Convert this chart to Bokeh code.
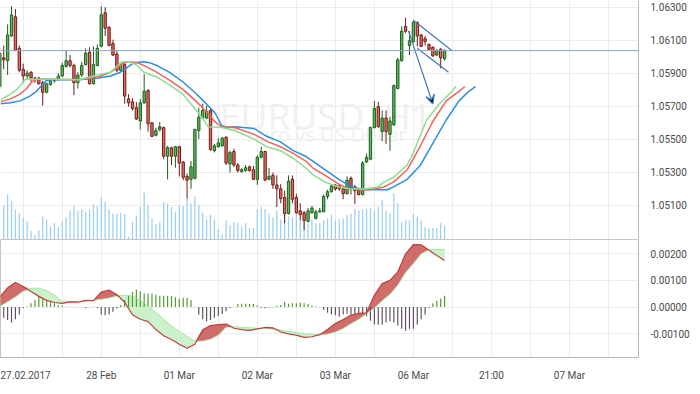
import numpy as np
from bokeh.plotting import figure
from bokeh.layouts import column
from bokeh.models import Range1d, FixedTicker, PrintfTickFormatter, Span, Label, Arrow, VeeHead
from bokeh.core.properties import value
from bokeh.embed import file_html
from bokeh.resources import INLINE

# ---------------- data (EURUSD H1, bar index 0..114) ----------------
opens = [1.05819, 1.05993, 1.05976, 1.06126, 1.06242, 1.06051, 1.05923, 1.05883, 1.05906, 1.05871,
         1.05871, 1.05842, 1.05784, 1.05831, 1.05854, 1.05860, 1.05883, 1.05941, 1.05976, 1.05947,
         1.05842, 1.05889, 1.05952, 1.06028, 1.05836, 1.05947, 1.06063, 1.06266, 1.06179, 1.06080,
         1.06016, 1.05918, 1.05952, 1.05744, 1.05726, 1.05691, 1.05610, 1.05720, 1.05796, 1.05599,
         1.05523, 1.05558, 1.05570, 1.05396, 1.05448, 1.05396, 1.05454, 1.05361, 1.05274, 1.05256,
         1.05262, 1.05552, 1.05628, 1.05628, 1.05674, 1.05430, 1.05454, 1.05459, 1.05512, 1.05349,
         1.05425, 1.05343, 1.05303, 1.05309, 1.05332, 1.05314, 1.05256, 1.05390, 1.05425, 1.05256,
         1.05280, 1.05222, 1.05198, 1.05146, 1.05048, 1.05256, 1.05146, 1.05065, 1.05053, 1.05001,
         1.05053, 1.05019, 1.05059, 1.05059, 1.05152, 1.05181, 1.05222, 1.05216, 1.05198, 1.05169,
         1.05262, 1.05210, 1.05193, 1.05164, 1.05361, 1.05378, 1.05570, 1.05697, 1.05546, 1.05628,
         1.05529, 1.05587, 1.05807, 1.05976, 1.06184, 1.06068, 1.06092, 1.06208, 1.06132, 1.06109,
         1.06074, 1.06057, 1.06010, 1.06045, 1.05987]
highs = [1.06057, 1.06068, 1.06196, 1.06306, 1.06289, 1.06068, 1.05958, 1.05918, 1.05912, 1.05877,
         1.05877, 1.05854, 1.05842, 1.05865, 1.05871, 1.05900, 1.05964, 1.06034, 1.06010, 1.05958,
         1.05906, 1.05970, 1.06051, 1.06057, 1.06063, 1.06074, 1.06306, 1.06300, 1.06184, 1.06103,
         1.06039, 1.05964, 1.05964, 1.05773, 1.05749, 1.05726, 1.05744, 1.05894, 1.05802, 1.05604,
         1.05570, 1.05604, 1.05575, 1.05459, 1.05454, 1.05459, 1.05459, 1.05367, 1.05291, 1.05367,
         1.05564, 1.05691, 1.05715, 1.05703, 1.05686, 1.05471, 1.05506, 1.05512, 1.05517, 1.05430,
         1.05442, 1.05355, 1.05326, 1.05343, 1.05338, 1.05338, 1.05401, 1.05454, 1.05430, 1.05326,
         1.05297, 1.05280, 1.05227, 1.05187, 1.05280, 1.05280, 1.05169, 1.05111, 1.05065, 1.05082,
         1.05094, 1.05071, 1.05082, 1.05164, 1.05193, 1.05227, 1.05227, 1.05222, 1.05216, 1.05274,
         1.05274, 1.05222, 1.05204, 1.05367, 1.05413, 1.05575, 1.05732, 1.05726, 1.05674, 1.05674,
         1.05633, 1.05831, 1.05993, 1.06184, 1.06237, 1.06155, 1.06219, 1.06213, 1.06138, 1.06126,
         1.06080, 1.06063, 1.06045, 1.06051, 1.06045]
lows = [1.05802, 1.05923, 1.05889, 1.06121, 1.06034, 1.05906, 1.05842, 1.05860, 1.05848, 1.05842,
        1.05831, 1.05703, 1.05778, 1.05825, 1.05842, 1.05854, 1.05877, 1.05935, 1.05935, 1.05767,
        1.05807, 1.05877, 1.05947, 1.05831, 1.05831, 1.05941, 1.06057, 1.06126, 1.06063, 1.06005,
        1.05906, 1.05912, 1.05715, 1.05697, 1.05674, 1.05616, 1.05558, 1.05715, 1.05546, 1.05512,
        1.05517, 1.05546, 1.05378, 1.05256, 1.05343, 1.05326, 1.05274, 1.05251, 1.05140, 1.05198,
        1.05256, 1.05500, 1.05622, 1.05622, 1.05430, 1.05419, 1.05448, 1.05454, 1.05343, 1.05297,
        1.05332, 1.05297, 1.05297, 1.05303, 1.05303, 1.05251, 1.05222, 1.05384, 1.05245, 1.05251,
        1.05198, 1.05088, 1.05111, 1.04990, 1.05042, 1.05111, 1.05048, 1.05007, 1.04949, 1.04995,
        1.05048, 1.05013, 1.05053, 1.05059, 1.05135, 1.05175, 1.05187, 1.05187, 1.05135, 1.05164,
        1.05164, 1.05106, 1.05158, 1.05158, 1.05355, 1.05372, 1.05564, 1.05570, 1.05488, 1.05471,
        1.05430, 1.05581, 1.05802, 1.05970, 1.06144, 1.06010, 1.06086, 1.06063, 1.06057, 1.06068,
        1.06039, 1.05999, 1.06005, 1.05929, 1.05976]
closes = [1.06022, 1.05981, 1.06132, 1.06254, 1.06039, 1.05918, 1.05883, 1.05900, 1.05871, 1.05865,
          1.05836, 1.05784, 1.05836, 1.05854, 1.05860, 1.05883, 1.05947, 1.05976, 1.05947, 1.05842,
          1.05889, 1.05947, 1.06022, 1.05836, 1.05952, 1.06051, 1.06254, 1.06173, 1.06068, 1.06010,
          1.05918, 1.05947, 1.05761, 1.05720, 1.05686, 1.05622, 1.05720, 1.05790, 1.05593, 1.05517,
          1.05552, 1.05575, 1.05396, 1.05448, 1.05396, 1.05454, 1.05355, 1.05268, 1.05251, 1.05332,
          1.05558, 1.05633, 1.05674, 1.05668, 1.05436, 1.05459, 1.05477, 1.05506, 1.05355, 1.05419,
          1.05343, 1.05309, 1.05314, 1.05326, 1.05309, 1.05256, 1.05390, 1.05425, 1.05251, 1.05274,
          1.05222, 1.05198, 1.05140, 1.05048, 1.05245, 1.05135, 1.05053, 1.05042, 1.05007, 1.05065,
          1.05082, 1.05059, 1.05065, 1.05152, 1.05181, 1.05216, 1.05198, 1.05198, 1.05169, 1.05251,
          1.05204, 1.05187, 1.05164, 1.05355, 1.05390, 1.05570, 1.05686, 1.05575, 1.05628, 1.05546,
          1.05610, 1.05825, 1.05981, 1.06155, 1.06155, 1.06097, 1.06208, 1.06126, 1.06063, 1.06092,
          1.06045, 1.06005, 1.06039, 1.05993, 1.06037]
volumes = [30, 35, 47, 40, 31, 28, 23, 19, 9, 5, 10, 24, 21, 13, 17, 13, 19, 23, 30, 35,
           30, 32, 29, 31, 37, 35, 44, 39, 31, 27, 27, 28, 27, 3, 18, 25, 34, 49, 36, 22,
           16, 18, 39, 38, 34, 29, 36, 35, 43, 38, 45, 36, 28, 21, 26, 21, 11, 5, 20, 15,
           18, 17, 13, 17, 12, 12, 32, 34, 32, 27, 23, 30, 21, 28, 24, 23, 27, 21, 20, 17,
           21, 17, 17, 20, 22, 26, 20, 21, 22, 26, 27, 32, 30, 31, 32, 33, 30, 34, 41, 30,
           27, 48, 38, 18, 20, 20, 27, 24, 20, 13, 12, 12, 12, 17, 14]

# Alligator lines (already shifted forward)
jaw_x = [0.2, 2.7, 5.2, 7.7, 9.4, 10.7, 11.9, 13.4, 20.2, 25.2, 28.4, 30.9, 32.7, 34.4, 36.9, 38.4,
         40.2, 43.4, 46.9, 50.2, 52.7, 55.2, 56.9, 58.4, 60.2, 65.2, 68.4, 71.9, 75.2, 78.4, 80.2,
         83.4, 86.9, 90.2, 93.4, 96.9, 99.4, 100.9, 104.4, 107.7, 110.9, 114.4, 117.7, 120.2, 121.9]
jaw_y = [1.05715, 1.05720, 1.05732, 1.05761, 1.05790, 1.05825, 1.05854, 1.05860, 1.05860, 1.05871,
         1.05883, 1.05906, 1.05935, 1.05964, 1.05970, 1.05964, 1.05947, 1.05906, 1.05848, 1.05778,
         1.05720, 1.05657, 1.05581, 1.05570, 1.05575, 1.05564, 1.05517, 1.05483, 1.05430, 1.05396,
         1.05367, 1.05314, 1.05256, 1.05210, 1.05193, 1.05193, 1.05193, 1.05210, 1.05256, 1.05338,
         1.05471, 1.05616, 1.05732, 1.05790, 1.05819]
teeth_x = [0.2, 2.7, 5.2, 6.9, 8.2, 9.4, 10.9, 20.2, 25.2, 28.4, 30.2, 31.9, 33.4, 35.2, 36.9,
           40.2, 43.4, 46.9, 50.2, 52.7, 55.2, 56.9, 60.2, 65.2, 68.4, 71.9, 75.2, 78.4, 80.2,
           83.4, 86.9, 89.4, 93.4, 95.9, 98.4, 100.9, 104.4, 107.7, 110.9, 114.4, 117.7, 119.2]
teeth_y = [1.05726, 1.05744, 1.05773, 1.05807, 1.05848, 1.05860, 1.05865, 1.05860, 1.05877, 1.05906,
           1.05935, 1.05964, 1.05970, 1.05964, 1.05947, 1.05906, 1.05860, 1.05802, 1.05732, 1.05674,
           1.05604, 1.05575, 1.05570, 1.05529, 1.05488, 1.05454, 1.05413, 1.05367, 1.05326, 1.05280,
           1.05227, 1.05198, 1.05193, 1.05198, 1.05210, 1.05239, 1.05314, 1.05454, 1.05604, 1.05732,
           1.05790, 1.05819]
lips_x = [0.2, 2.7, 4.4, 5.7, 6.4, 7.7, 20.2, 25.2, 28.4, 30.2, 31.4, 33.4, 35.2, 36.9, 40.2,
          43.4, 46.9, 49.4, 51.9, 53.4, 56.9, 60.2, 65.2, 68.4, 71.9, 75.2, 78.4, 80.2, 83.4,
          86.9, 90.2, 93.4, 96.9, 98.4, 100.9, 104.4, 105.9, 109.4, 112.7, 115.9, 116.9]
lips_y = [1.05738, 1.05773, 1.05802, 1.05836, 1.05860, 1.05865, 1.05860, 1.05889, 1.05906, 1.05947,
          1.05970, 1.05970, 1.05947, 1.05906, 1.05877, 1.05831, 1.05773, 1.05703, 1.05628, 1.05575,
          1.05570, 1.05552, 1.05500, 1.05454, 1.05430, 1.05384, 1.05326, 1.05285, 1.05239, 1.05210,
          1.05198, 1.05198, 1.05210, 1.05239, 1.05268, 1.05343, 1.05413, 1.05616, 1.05715, 1.05790,
          1.05819]

# MACD panel
macd_x = list(range(0, 115, 2))
macd_line = [0.00038, 0.00072, 0.00092, 0.00077, 0.00058, 0.00040, 0.00025, 0.00017, 0.00014, 0.00019,
             0.00018, 0.00025, 0.00024, 0.00056, 0.00064, 0.00046, 0.00018, -0.00029, -0.00046, -0.00055,
             -0.00085, -0.00108, -0.00122, -0.00140, -0.00155, -0.00140, -0.00086, -0.00070, -0.00066, -0.00064,
             -0.00080, -0.00085, -0.00088, -0.00082, -0.00077, -0.00078, -0.00094, -0.00101, -0.00106, -0.00114,
             -0.00112, -0.00104, -0.00085, -0.00062, -0.00047, -0.00030, -0.00024, -0.00022, 0.00044, 0.00088,
             0.00100, 0.00132, 0.00200, 0.00235, 0.00234, 0.00214, 0.00194, 0.00175]
signal_line = [0.00002, 0.00020, 0.00038, 0.00059, 0.00070, 0.00071, 0.00062, 0.00045, 0.00020, 0.00020,
               0.00021, 0.00023, 0.00025, 0.00029, 0.00034, 0.00041, 0.00044, 0.00042, 0.00026, 0.00004,
               -0.00020, -0.00046, -0.00071, -0.00092, -0.00111, -0.00129, -0.00128, -0.00121, -0.00106, -0.00076,
               -0.00074, -0.00076, -0.00078, -0.00080, -0.00081, -0.00084, -0.00087, -0.00092, -0.00096, -0.00100,
               -0.00103, -0.00105, -0.00102, -0.00094, -0.00081, -0.00063, -0.00046, -0.00025, -0.00004, 0.00024,
               0.00048, 0.00082, 0.00130, 0.00164, 0.00200, 0.00215, 0.00217, 0.00216]
histogram = [-0.00034, -0.00040, -0.00049, -0.00058, -0.00046, -0.00028, -0.00004, 0.00002, 0.00014, 0.00026,
             0.00039, 0.00035, 0.00026, 0.00020, 0.00014, 0.00008, 0.00005, 0.00001, 0.00001, -0.00001,
             0.00001, 0.00001, -0.00004, -0.00001, 0.00002, -0.00004, -0.00028, -0.00031, -0.00028, -0.00018,
             -0.00006, 0.00008, 0.00026, 0.00045, 0.00057, 0.00066, 0.00059, 0.00051, 0.00051, 0.00051,
             0.00047, 0.00042, 0.00042, 0.00042, 0.00041, 0.00037, 0.00032, 0.00035, 0.00035, 0.00026,
             0.00001, -0.00028, -0.00046, -0.00054, -0.00049, -0.00040, -0.00034, -0.00025, -0.00016, -0.00004,
             0.00001, 0.00011, 0.00012, 0.00012, 0.00011, 0.00011, 0.00006, -0.00004, -0.00005, -0.00002,
             -0.00001, 0.00005, 0.00008, 0.00020, 0.00012, 0.00014, 0.00014, 0.00016, 0.00014, 0.00011,
             0.00006, 0.00002, -0.00001, -0.00010, -0.00022, -0.00028, -0.00031, -0.00037, -0.00028, -0.00025,
             -0.00028, -0.00025, -0.00025, -0.00025, -0.00034, -0.00052, -0.00066, -0.00067, -0.00067, -0.00058,
             -0.00054, -0.00058, -0.00070, -0.00082, -0.00088, -0.00082, -0.00082, -0.00066, -0.00046, -0.00028,
             -0.00004, 0.00014, 0.00024, 0.00032, 0.00042]

last_price = 1.06037
price_ticks = [1.051, 1.053, 1.055, 1.057, 1.059, 1.061, 1.063]
macd_ticks = [-0.001, 0.0, 0.001, 0.002]
date_ticks = [6, 26, 46, 66, 86, 106, 126, 146]
date_labels = ["27.02.2017", "28 Feb", "01 Mar", "02 Mar", "03 Mar", "06 Mar", "21:00", "07 Mar"]
grid_ticks = list(range(6, 160, 10))

# hand-drawn annotations (bar index, price)
arrow_start = (104.75, 1.06157)
arrow_end = (111.0, 1.05713)
channel_x0 = [106.0, 107.0]
channel_y0 = [1.06221, 1.06051]
channel_x1 = [116.0, 115.0]
channel_y1 = [1.06035, 1.05906]

# ---------------- styling ----------------
FONT = "Roboto"
AX_COLOR = "#b9b9b9"
GRID = "#ececec"
LBL = "#4a4a4a"
DRAW = "#3c7bb6"

bars = list(range(len(opens)))
o = np.array(opens); c = np.array(closes)
up = c >= o
body_fill = ["#5cb85c" if u else "#e46e65" for u in up]
edge = ["#1f5f1f" if u else "#6e1d16" for u in up]
tops = np.maximum(o, c).tolist()
bots = np.minimum(o, c).tolist()

xr = Range1d(0.175, 163.7)

p1 = figure(frame_width=638, frame_height=239, x_range=xr,
            y_range=Range1d(1.04891, 1.06341), y_axis_location="right",
            output_backend="svg", toolbar_location=None, min_border=0)
p1.xaxis.visible = False
p1.outline_line_color = None
p1.background_fill_color = "white"
p1.xgrid.ticker = FixedTicker(ticks=grid_ticks)
p1.ygrid.ticker = FixedTicker(ticks=price_ticks)
for g in (p1.xgrid, p1.ygrid):
    g.grid_line_color = GRID
p1.yaxis.ticker = FixedTicker(ticks=price_ticks)
p1.yaxis.formatter = PrintfTickFormatter(format="%.5f")

# watermark
p1.text(x=[56.4], y=[1.05645], text=["EURUSD, H1"], text_font=value("Open Sans"),
        text_font_size="37px", text_color="#f0f0f0", text_baseline="alphabetic")
p1.text(x=[63.2], y=[1.05529], text=["Euro vs US Dollar"], text_font=value("Open Sans"),
        text_font_size="20px", text_color="#f0f0f0", text_baseline="alphabetic")

# volume
p1.extra_y_ranges = {"vol": Range1d(0, 250)}
p1.vbar(x=bars, top=volumes, bottom=0, width=0.33, y_range_name="vol",
        fill_color="#9dd0f0", line_color=None)

# candles
p1.segment(x0=bars, y0=highs, x1=bars, y1=lows, line_color=edge, line_width=1)
p1.vbar(x=bars, top=tops, bottom=bots, width=0.6, fill_color=body_fill,
        line_color=edge, line_width=1)

# alligator
p1.line(jaw_x, jaw_y, line_color="#2a8fdc", line_width=1.5)
p1.line(teeth_x, teeth_y, line_color="#f2625c", line_width=1.5)
p1.line(lips_x, lips_y, line_color="#8fdc8f", line_width=1.5)

# drawings
p1.segment(x0=channel_x0, y0=channel_y0, x1=channel_x1, y1=channel_y1,
           line_color=DRAW, line_width=1.2)
p1.add_layout(Arrow(x_start=arrow_start[0], y_start=arrow_start[1],
                    x_end=arrow_end[0], y_end=arrow_end[1],
                    line_color=DRAW, line_width=1.2,
                    end=VeeHead(size=9, line_color=DRAW, line_width=1.2)))

# last price line and tag
p1.add_layout(Span(location=last_price, dimension="width", line_color="#8ca7c7", line_width=1))
p1.add_layout(Label(x=163.7, y=last_price, text=f"{last_price:.5f}", x_offset=1,
                    text_font=FONT, text_font_size="10px", text_color="white",
                    text_baseline="middle", text_align="left",
                    background_fill_color="#4b6d95", padding=3))

# ---------------- MACD panel ----------------
p2 = figure(frame_width=638, frame_height=118, x_range=xr,
            y_range=Range1d(-0.00190, 0.00254), y_axis_location="right",
            output_backend="svg", toolbar_location=None, min_border=0)
p2.outline_line_color = "#c6c6c6"
p2.xgrid.ticker = FixedTicker(ticks=grid_ticks)
p2.ygrid.ticker = FixedTicker(ticks=macd_ticks)
for g in (p2.xgrid, p2.ygrid):
    g.grid_line_color = GRID
p2.yaxis.ticker = FixedTicker(ticks=macd_ticks)
p2.yaxis.formatter = PrintfTickFormatter(format="%.5f")
p2.xaxis.ticker = FixedTicker(ticks=date_ticks)
p2.xaxis.major_label_overrides = {t: s for t, s in zip(date_ticks, date_labels)}

m = np.array(macd_line); s = np.array(signal_line)
p2.varea(x=macd_x, y1=signal_line, y2=np.maximum(m, s).tolist(), fill_color="#d06c6c")
p2.varea(x=macd_x, y1=macd_line, y2=np.maximum(m, s).tolist(), fill_color="#cbf2cb")
hist_col = ["#4f9a2c" if h > 0 else "#5d4f5d" for h in histogram]
p2.vbar(x=bars, top=histogram, bottom=0, width=0.3, fill_color=hist_col, line_color=None)
p2.line(macd_x, signal_line, line_color="#a6e6a6", line_width=1)
p2.line(macd_x, macd_line, line_color="#c0403a", line_width=1.2)

for p in (p1, p2):
    for ax in p.yaxis:
        ax.axis_line_color = AX_COLOR
        ax.major_tick_line_color = None
        ax.minor_tick_line_color = None
        ax.major_label_text_font = FONT
        ax.major_label_text_font_size = "10px"
        ax.major_label_text_color = LBL
        ax.major_label_standoff = 6
ax = p2.xaxis[0]
ax.axis_line_color = AX_COLOR
ax.major_tick_line_color = None
ax.minor_tick_line_color = None
ax.major_label_text_font = FONT
ax.major_label_text_font_size = "10px"
ax.major_label_text_color = LBL
ax.major_label_standoff = 6

layout = column(p1, p2, spacing=0)
open("out.html", "w").write(file_html(layout, INLINE))
